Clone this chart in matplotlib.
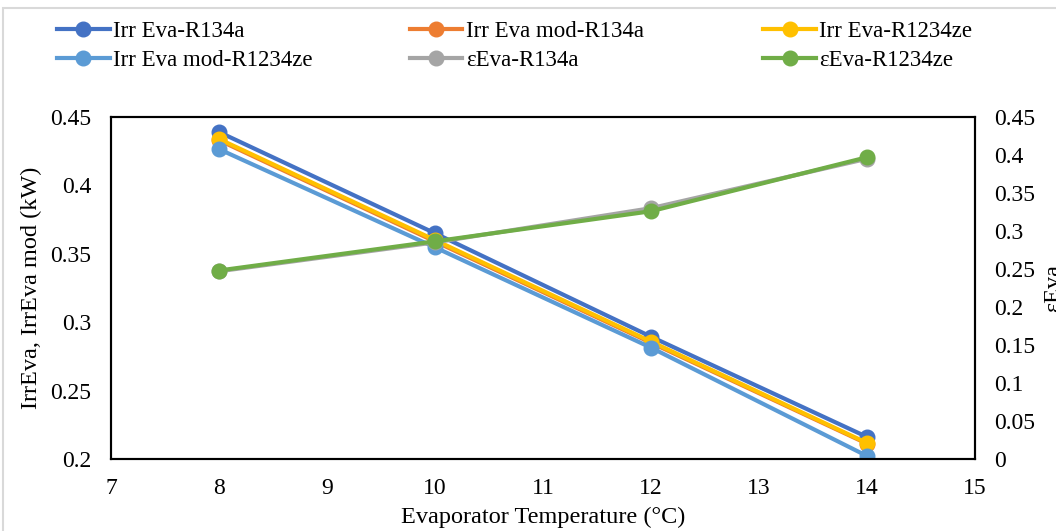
import numpy as np
import matplotlib.pyplot as plt
from matplotlib.patches import Rectangle

plt.rcParams['font.family'] = ['Liberation Serif', 'DejaVu Serif']

# evaporator temperature (C)
temps = [8, 10, 12, 14]

# irreversibility (kW), left axis
irr_r134a = [0.439, 0.365, 0.2894, 0.2161]
irr_mod_r134a = [0.4330, 0.3590, 0.2850, 0.2112]
irr_r1234ze = [0.4339, 0.3600, 0.2858, 0.2117]
irr_mod_r1234ze = [0.4265, 0.3547, 0.2814, 0.2022]

# exergy efficiency, right axis
eps_r134a = [0.247, 0.285, 0.330, 0.395]
eps_r1234ze = [0.248, 0.2864, 0.326, 0.397]

left_series = [
    ("Irr Eva-R134a", irr_r134a, "#4472C4"),
    ("Irr Eva mod-R134a", irr_mod_r134a, "#ED7D31"),
    ("Irr Eva-R1234ze", irr_r1234ze, "#FFC000"),
    ("Irr Eva mod-R1234ze", irr_mod_r1234ze, "#5B9BD5"),
]
right_series = [
    ("\u03b5Eva-R134a", eps_r134a, "#A5A5A5"),
    ("\u03b5Eva-R1234ze", eps_r1234ze, "#70AD47"),
]

fig = plt.figure(figsize=(10.56, 5.31), dpi=100)
ax = fig.add_axes([0.1051, 0.1356, 0.8182, 0.6441])
ax2 = ax.twinx()

# light grey chart-area border (right and bottom edges are cropped off)
fig.patches.append(Rectangle((3 / 1056, -0.1), 1.2, 1 - 8 / 531 + 0.1, transform=fig.transFigure,
                             fill=False, edgecolor="#D9D9D9", linewidth=1.5))

handles = []
for name, vals, col in left_series:
    h, = ax.plot(temps, vals, color=col, lw=3, marker="o", ms=10.5, label=name)
    handles.append(h)
for name, vals, col in right_series:
    h, = ax2.plot(temps, vals, color=col, lw=3, marker="o", ms=10.5, label=name)
    handles.append(h)

ax.set_xlim(7, 15)
ax.set_ylim(0.2, 0.45)
ax2.set_ylim(0, 0.45)
ax.set_xticks(np.arange(7, 16, 1))
ax.set_yticks(np.arange(0.2, 0.451, 0.05))
ax2.set_yticks(np.arange(0, 0.451, 0.05))
ax.set_yticklabels(["0.2", "0.25", "0.3", "0.35", "0.4", "0.45"])
ax2.set_yticklabels(["0", "0.05", "0.1", "0.15", "0.2", "0.25", "0.3", "0.35", "0.4", "0.45"])

for a in (ax, ax2):
    a.tick_params(length=0, labelsize=17, pad=14)
    for s in a.spines.values():
        s.set_linewidth(1.5)
        s.set_color("black")

ax.set_xlabel("Evaporator Temperature (\u00b0C)", fontsize=17.5, labelpad=5)
ax.set_ylabel("IrrEva, IrrEva mod (kW)", fontsize=17.5)
ax.yaxis.set_label_coords(-0.08, 0.5)
# right-hand axis title, partly cropped at the image edge as in the original
fig.text(1043 / 1056, 1 - 288 / 531, "\u03b5Eva", rotation=90, fontsize=17.5,
         ha="left", va="center")

# legend: three columns placed at fixed positions
col_x = [0.043, 0.377, 0.712]
for c, (i, j) in enumerate([(0, 3), (1, 4), (2, 5)]):
    fig.legend([handles[i], handles[j]], [handles[i].get_label(), handles[j].get_label()],
               loc="upper left", bbox_to_anchor=(col_x[c], 0.983), frameon=False,
               fontsize=16.5, handlelength=2.3, handletextpad=0.15,
               labelspacing=0.36, borderaxespad=0.3, borderpad=0.2)

fig.savefig("out.png", dpi=100)
